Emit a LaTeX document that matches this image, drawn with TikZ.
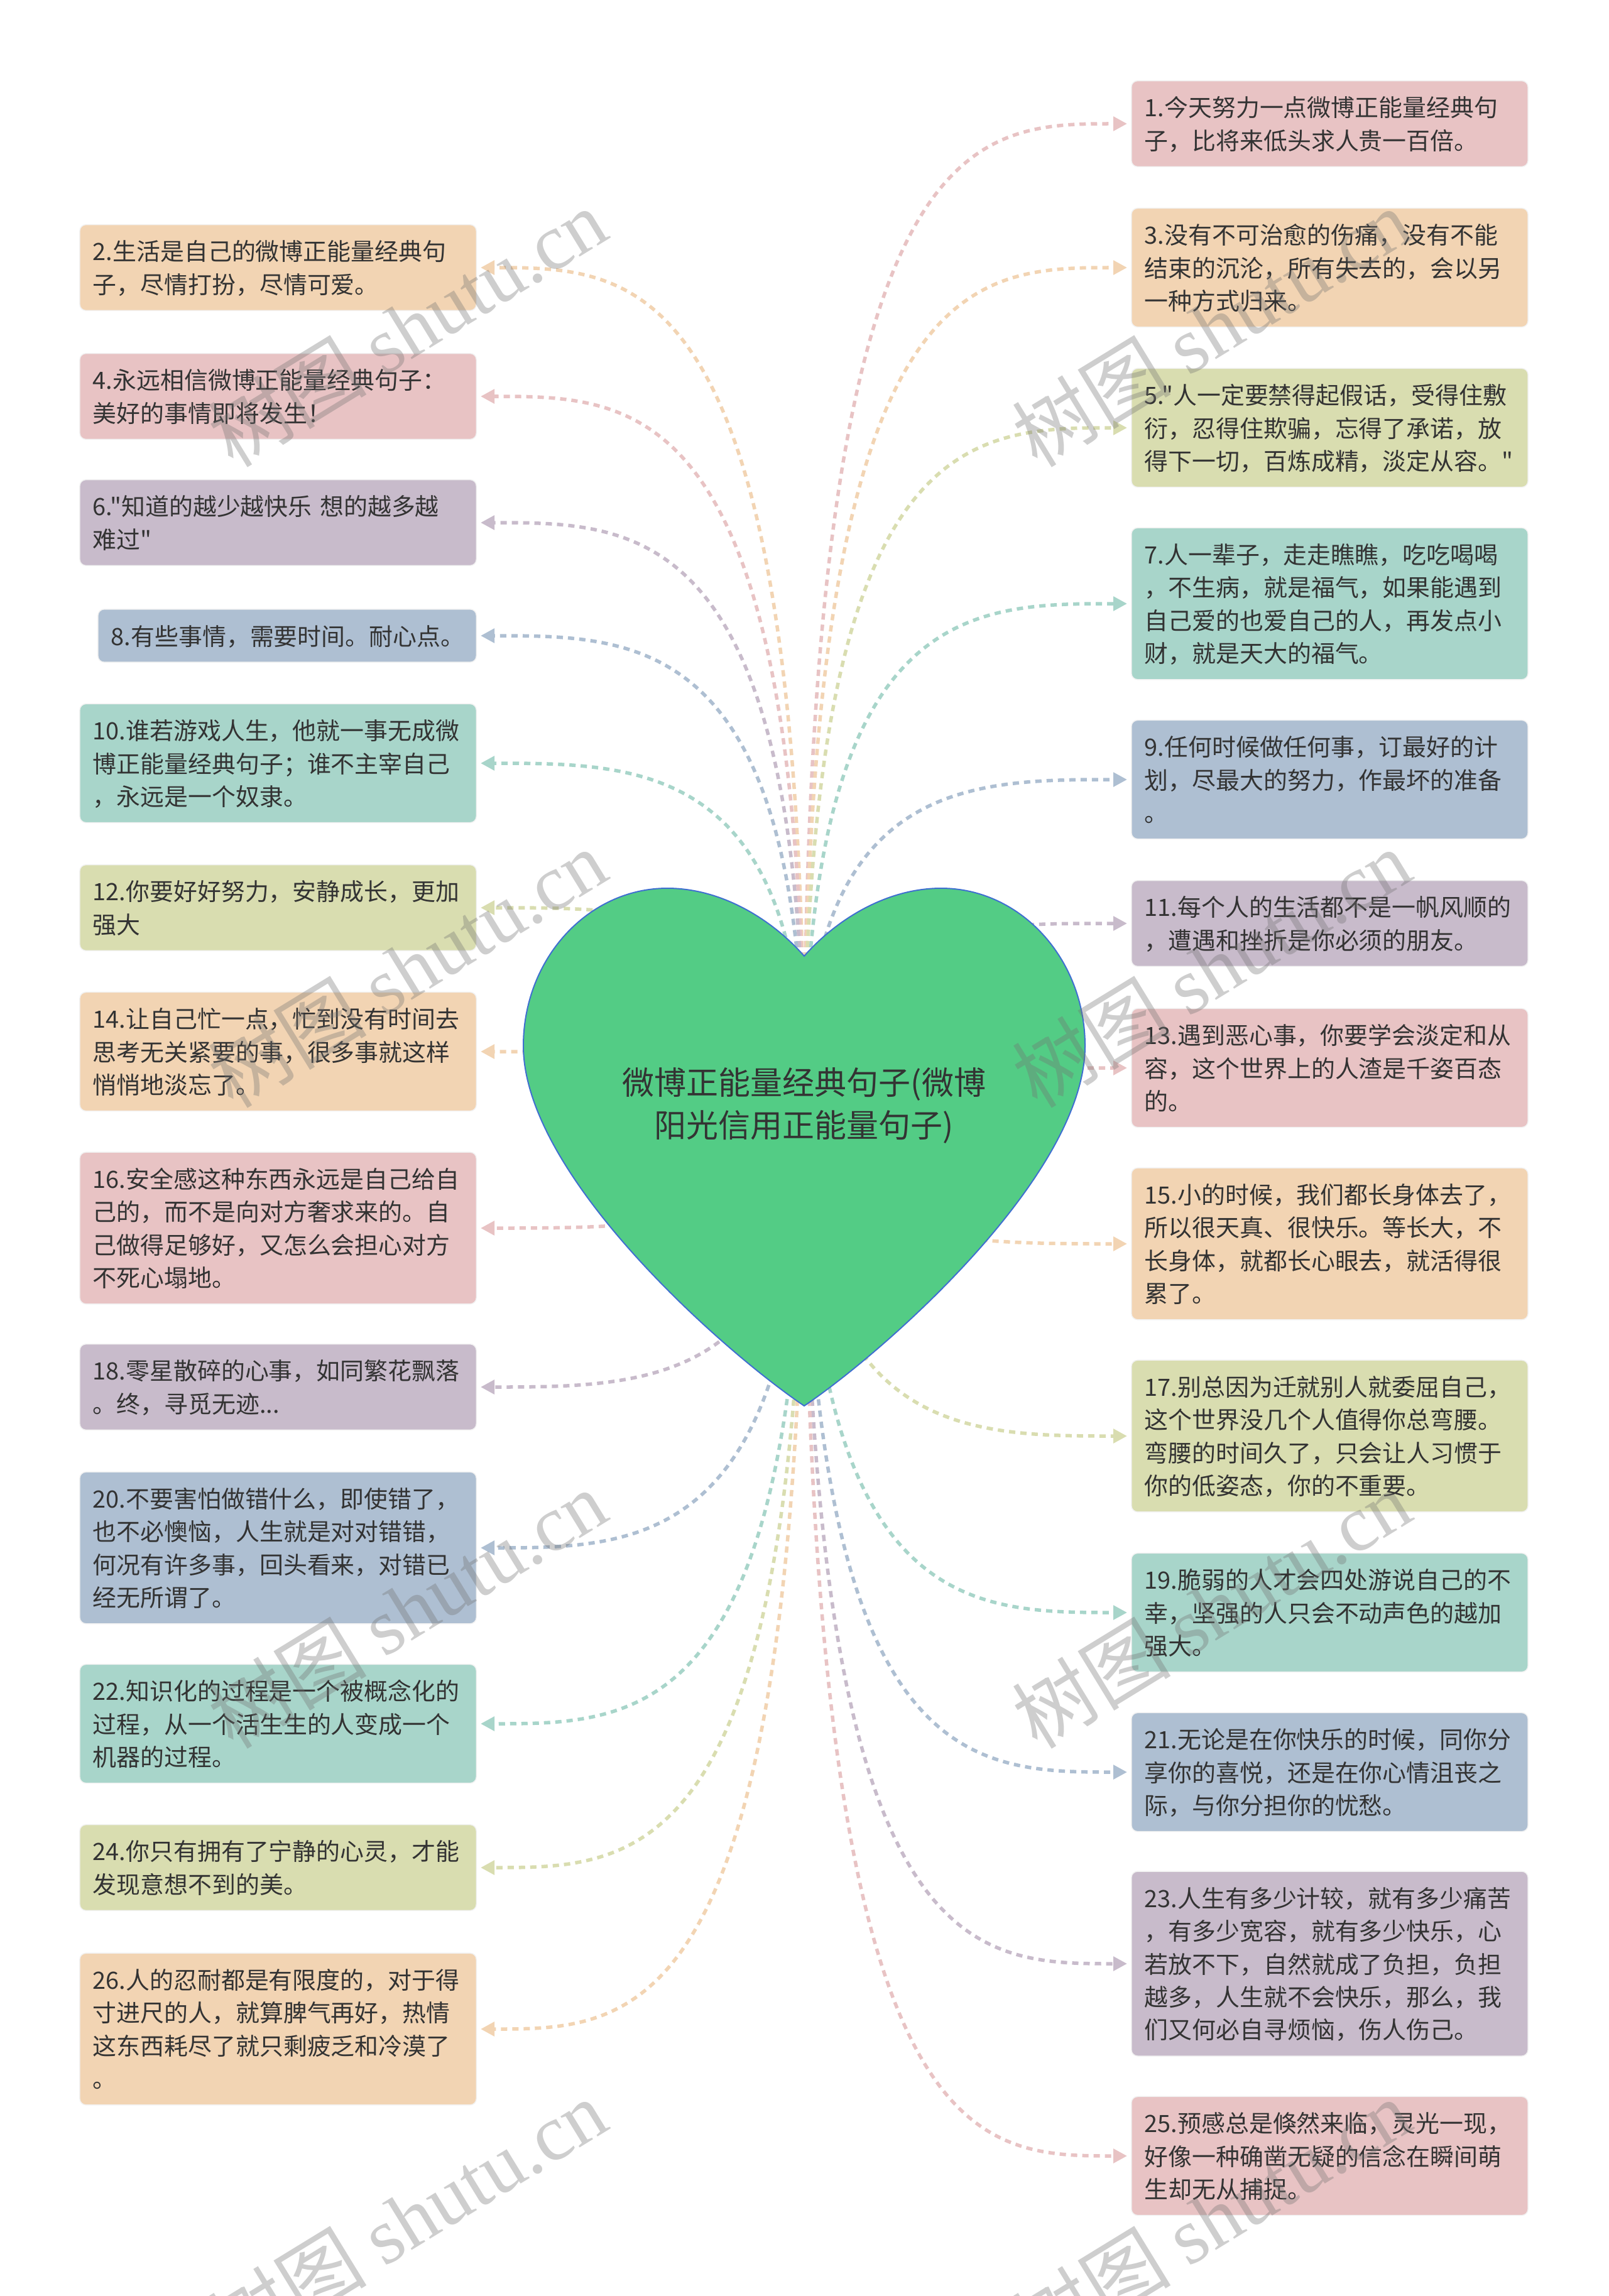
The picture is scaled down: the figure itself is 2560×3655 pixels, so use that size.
\documentclass[tikz,border=0pt]{standalone}
\usepackage{fontspec}
\newfontfamily\cjk{Noto Sans CJK SC}
\newfontfamily\serifwm{Liberation Serif}
\usepackage{xcolor}
\usepackage{tikz}
\usetikzlibrary{positioning, calc, arrows.meta, backgrounds}

\definecolor{cpink}{HTML}{E8C3C4}
\definecolor{cpeach}{HTML}{F2D4B3}
\definecolor{colive}{HTML}{D9DDB0}
\definecolor{cpurple}{HTML}{C8BBCB}
\definecolor{cmint}{HTML}{A8D5CA}
\definecolor{cblue}{HTML}{AEBFD2}
\definecolor{heartgreen}{HTML}{53CC85}
\definecolor{heartedge}{HTML}{3F6FD0}
\definecolor{inktext}{HTML}{333333}

\newcommand{\leaffont}{\cjk\fontsize{10.78pt}{14.9pt}\selectfont}
\newcommand{\rootfont}{\cjk\fontsize{14.5pt}{19.6pt}\selectfont}
\newcommand{\wmfont}{\cjk\fontsize{36pt}{40pt}\selectfont}
\newcommand{\leafstrut}{\rule[-3.15pt]{0pt}{14.9pt}}

\begin{document}
\begin{tikzpicture}[x=0.01cm, y=-0.01cm,
    leaf/.style={rounded corners=0.1cm, draw=black!5, line width=0.015cm,
        text=inktext, font=\leaffont, align=left, text width=5.89cm,
        inner xsep=0.21cm, inner ysep=0.16cm,
        execute at begin node=\leafstrut, execute at end node=\leafstrut},
    link/.style={dash pattern=on 0.1cm off 0.08cm, line width=0.055cm,
        shorten >=0.06cm, -{Triangle[length=0.22cm,width=0.22cm]},
        to path={.. controls (\tikztostart |- \tikztotarget)
            and ($(\tikztostart |- \tikztotarget)!0.5!(\tikztotarget)$)
            .. (\tikztotarget) \tikztonodes}},
    wmark/.style={font=\wmfont, text=black!55, text opacity=0.35, rotate=31.5}]

    \useasboundingbox (0,0) rectangle (2560,3655);

    % Heart in the middle
    \draw[fill=heartgreen, draw=heartedge, line width=0.02cm]
        (1280,1522) .. controls (1230,1465) and (1150,1414) .. (1062,1414)
        .. controls (936,1414) and (833,1526) .. (833,1665)
        .. controls (833,1870) and (1150,2150) .. (1280,2238)
        .. controls (1410,2150) and (1727,1870) .. (1727,1665)
        .. controls (1727,1526) and (1624,1414) .. (1498,1414)
        .. controls (1410,1414) and (1330,1465) .. (1280,1522) -- cycle;
    \node[font=\rootfont, text=inktext, align=center] (root) at (1280,1760)
        {微博正能量经典句子(微博\\阳光信用正能量句子)};

    % Left column, even numbers
    \node[leaf, anchor=east, fill=cpeach] (b2) at (759,426)
        {2.生活是自己的微博正能量经典句\\子，尽情打扮，尽情可爱。};
    \node[leaf, anchor=east, fill=cpink] (b4) at (759,631)
        {4.永远相信微博正能量经典句子：\\美好的事情即将发生！};
    \node[leaf, anchor=east, fill=cpurple] (b6) at (759,832)
        {6."知道的越少越快乐 想的越多越\\难过"};
    \node[leaf, anchor=east, fill=cblue, text width=5.60cm] (b8) at (759,1012)
        {8.有些事情，需要时间。耐心点。};
    \node[leaf, anchor=east, fill=cmint] (b10) at (759,1215)
        {10.谁若游戏人生，他就一事无成微\\博正能量经典句子；谁不主宰自己\\，永远是一个奴隶。};
    \node[leaf, anchor=east, fill=colive] (b12) at (759,1445)
        {12.你要好好努力，安静成长，更加\\强大};
    \node[leaf, anchor=east, fill=cpeach] (b14) at (759,1674)
        {14.让自己忙一点，忙到没有时间去\\思考无关紧要的事，很多事就这样\\悄悄地淡忘了。};
    \node[leaf, anchor=east, fill=cpink] (b16) at (759,1955)
        {16.安全感这种东西永远是自己给自\\己的，而不是向对方奢求来的。自\\己做得足够好，又怎么会担心对方\\不死心塌地。};
    \node[leaf, anchor=east, fill=cpurple] (b18) at (759,2208)
        {18.零星散碎的心事，如同繁花飘落\\。终，寻觅无迹...};
    \node[leaf, anchor=east, fill=cblue] (b20) at (759,2464)
        {20.不要害怕做错什么，即使错了，\\也不必懊恼，人生就是对对错错，\\何况有许多事，回头看来，对错已\\经无所谓了。};
    \node[leaf, anchor=east, fill=cmint] (b22) at (759,2744)
        {22.知识化的过程是一个被概念化的\\过程，从一个活生生的人变成一个\\机器的过程。};
    \node[leaf, anchor=east, fill=colive] (b24) at (759,2973)
        {24.你只有拥有了宁静的心灵，才能\\发现意想不到的美。};
    \node[leaf, anchor=east, fill=cpeach] (b26) at (759,3230)
        {26.人的忍耐都是有限度的，对于得\\寸进尺的人，就算脾气再好，热情\\这东西耗尽了就只剩疲乏和冷漠了\\。};

    % Right column, odd numbers
    \node[leaf, anchor=west, fill=cpink] (b1) at (1800,197)
        {1.今天努力一点微博正能量经典句\\子，比将来低头求人贵一百倍。};
    \node[leaf, anchor=west, fill=cpeach] (b3) at (1800,426)
        {3.没有不可治愈的伤痛，没有不能\\结束的沉沦，所有失去的，会以另\\一种方式归来。};
    \node[leaf, anchor=west, fill=colive] (b5) at (1800,681)
        {5."人一定要禁得起假话，受得住敷\\衍，忍得住欺骗，忘得了承诺，放\\得下一切，百炼成精，淡定从容。"};
    \node[leaf, anchor=west, fill=cmint] (b7) at (1800,961)
        {7.人一辈子，走走瞧瞧，吃吃喝喝\\，不生病，就是福气，如果能遇到\\自己爱的也爱自己的人，再发点小\\财，就是天大的福气。};
    \node[leaf, anchor=west, fill=cblue] (b9) at (1800,1241)
        {9.任何时候做任何事，订最好的计\\划，尽最大的努力，作最坏的准备\\。};
    \node[leaf, anchor=west, fill=cpurple] (b11) at (1800,1470)
        {11.每个人的生活都不是一帆风顺的\\，遭遇和挫折是你必须的朋友。};
    \node[leaf, anchor=west, fill=cpink] (b13) at (1800,1700)
        {13.遇到恶心事，你要学会淡定和从\\容，这个世界上的人渣是千姿百态\\的。};
    \node[leaf, anchor=west, fill=cpeach] (b15) at (1800,1980)
        {15.小的时候，我们都长身体去了，\\所以很天真、很快乐。等长大，不\\长身体，就都长心眼去，就活得很\\累了。};
    \node[leaf, anchor=west, fill=colive] (b17) at (1800,2286)
        {17.别总因为迁就别人就委屈自己，\\这个世界没几个人值得你总弯腰。\\弯腰的时间久了，只会让人习惯于\\你的低姿态，你的不重要。};
    \node[leaf, anchor=west, fill=cmint] (b19) at (1800,2567)
        {19.脆弱的人才会四处游说自己的不\\幸，坚强的人只会不动声色的越加\\强大。};
    \node[leaf, anchor=west, fill=cblue] (b21) at (1800,2821)
        {21.无论是在你快乐的时候，同你分\\享你的喜悦，还是在你心情沮丧之\\际，与你分担你的忧愁。};
    \node[leaf, anchor=west, fill=cpurple] (b23) at (1800,3126)
        {23.人生有多少计较，就有多少痛苦\\，有多少宽容，就有多少快乐，心\\若放不下，自然就成了负担，负担\\越多，人生就不会快乐，那么，我\\们又何必自寻烦恼，伤人伤己。};
    \node[leaf, anchor=west, fill=cpink] (b25) at (1800,3432)
        {25.预感总是倏然来临，灵光一现，\\好像一种确凿无疑的信念在瞬间萌\\生却无从捕捉。};

    % Dashed links from the heart, kept behind it
    \begin{scope}[on background layer]
        \fill[white] (0,0) rectangle (2560,3655);

        \draw[link, cpeach] (root.center) to (b2.east);
        \draw[link, cpink] (root.center) to (b4.east);
        \draw[link, cpurple] (root.center) to (b6.east);
        \draw[link, cblue] (root.center) to (b8.east);
        \draw[link, cmint] (root.center) to (b10.east);
        \draw[link, colive] (root.center) to (b12.east);
        \draw[link, cpeach] (root.center) to (b14.east);
        \draw[link, cpink] (root.center) to (b16.east);
        \draw[link, cpurple] (root.center) to (b18.east);
        \draw[link, cblue] (root.center) to (b20.east);
        \draw[link, cmint] (root.center) to (b22.east);
        \draw[link, colive] (root.center) to (b24.east);
        \draw[link, cpeach] (root.center) to (b26.east);

        \draw[link, cpink] (root.center) to (b1.west);
        \draw[link, cpeach] (root.center) to (b3.west);
        \draw[link, colive] (root.center) to (b5.west);
        \draw[link, cmint] (root.center) to (b7.west);
        \draw[link, cblue] (root.center) to (b9.west);
        \draw[link, cpurple] (root.center) to (b11.west);
        \draw[link, cpink] (root.center) to (b13.west);
        \draw[link, cpeach] (root.center) to (b15.west);
        \draw[link, colive] (root.center) to (b17.west);
        \draw[link, cmint] (root.center) to (b19.west);
        \draw[link, cblue] (root.center) to (b21.west);
        \draw[link, cpurple] (root.center) to (b23.west);
        \draw[link, cpink] (root.center) to (b25.west);
    \end{scope}

    % Watermark
    \node[wmark] (wm1) at (648,521) {树图 {\serifwm shutu.cn}};
    \node[wmark] (wm2) at (648,1541) {树图 {\serifwm shutu.cn}};
    \node[wmark] (wm3) at (648,2561) {树图 {\serifwm shutu.cn}};
    \node[wmark] (wm4) at (648,3531) {树图 {\serifwm shutu.cn}};
    \node[wmark] (wm5) at (1928,521) {树图 {\serifwm shutu.cn}};
    \node[wmark] (wm6) at (1928,1541) {树图 {\serifwm shutu.cn}};
    \node[wmark] (wm7) at (1928,2561) {树图 {\serifwm shutu.cn}};
    \node[wmark] (wm8) at (1928,3531) {树图 {\serifwm shutu.cn}};

\end{tikzpicture}
\end{document}
